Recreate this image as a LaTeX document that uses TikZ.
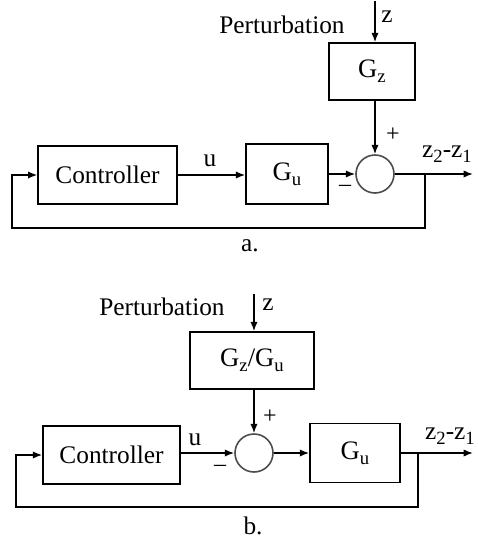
\documentclass[tikz,border=0pt]{standalone}
\usepackage{fontspec}
\setmainfont{Liberation Serif}
\usetikzlibrary{arrows.meta}
\newcommand\lowsub[1]{\raisebox{-0.4ex}{\fontsize{14}{14}\selectfont #1}}
\begin{document}
\begin{tikzpicture}[x=0.75pt,y=-0.75pt,
  line width=1.2pt,
  blk/.style={draw, line width=1.2pt, inner sep=0pt, font=\fontsize{19}{21}\selectfont},
  sumnode/.style={draw=black!70, line width=1.2pt, circle, inner sep=0pt, minimum size=28.5pt},
  lbl/.style={inner sep=0pt, font=\fontsize{19}{21}\selectfont},
  sgn/.style={inner sep=0pt, font=\fontsize{18}{20}\selectfont},
  arr/.style={-{Latex[length=7pt,width=5.5pt]}}]
\useasboundingbox (0,0) rectangle (478,540);
% ---------------- a ----------------
\node[blk, minimum width=104pt, minimum height=43.5pt] (ctrlA) at (107.5,175) {Controller};
\node[blk, minimum width=61.5pt, minimum height=45pt, font=\fontsize{20}{22}\selectfont] (guA) at (287,174) {G\lowsub{u}};
\node[blk, minimum width=64.5pt, minimum height=42.75pt, font=\fontsize{20}{22}\selectfont] (gzA) at (372,71.5) {G\lowsub{z}};
\node[sumnode] (sumA) at (375,174) {};
\coordinate (zinA) at (375,1);
\coordinate (outA) at (473,174);
\coordinate (brA) at (425,174);
\coordinate (fbA) at (12,228);
\node[lbl] (pertA) at (282,25) {Perturbation};
\node[lbl] (zA) at (387,17) {z};
\node[lbl] (uA) at (210,161) {u};
\node[sgn] (plusA) at (393,135) {+};
\node[sgn] (minusA) at (345,188) {\textendash};
\node[lbl] (outlblA) at (447,154) {z\lowsub{2}-z\lowsub{1}};
\node[lbl] (capA) at (250,246) {a.};
\draw[arr] (zinA) -- (gzA.north -| zinA);
\draw[arr] (gzA.south -| sumA) -- (sumA.north);
\draw[arr] (ctrlA.east) -- (ctrlA.east -| guA.west);
\draw[arr] (guA.east |- sumA) -- (sumA.west);
\draw[arr] (sumA.east) -- (outA);
\draw[arr] (brA) -- (brA |- fbA) -- (fbA) |- (ctrlA.west);
% ---------------- b ----------------
\node[blk, minimum width=102.75pt, minimum height=43.5pt] (ctrlB) at (111.5,455) {Controller};
\node[sumnode] (sumB) at (254,453) {};
\node[blk, minimum width=67.5pt, minimum height=44.25pt, font=\fontsize{20}{22}\selectfont] (guB) at (355,453) {G\lowsub{u}};
\node[blk, minimum width=93pt, minimum height=42.75pt, font=\fontsize{20}{22}\selectfont] (gzB) at (252,360.5) {G\lowsub{z}/G\lowsub{u}};
\coordinate (zinB) at (254,294);
\coordinate (outB) at (473,453);
\coordinate (brB) at (418,453);
\coordinate (fbB) at (16,507);
\node[lbl] (pertB) at (162,307) {Perturbation};
\node[lbl] (zB) at (268,305) {z};
\node[lbl] (uB) at (195,440) {u};
\node[sgn] (plusB) at (270,417) {+};
\node[sgn] (minusB) at (220,468) {\textendash};
\node[lbl] (outlblB) at (450,436) {z\lowsub{2}-z\lowsub{1}};
\node[lbl] (capB) at (253,526) {b.};
\draw[arr] (zinB) -- (gzB.north -| zinB);
\draw[arr] (gzB.south -| sumB) -- (sumB.north);
\draw[arr] (ctrlB.east |- sumB) -- (sumB.west);
\draw[arr] (sumB.east) -- (guB.west);
\draw[arr] (guB.east) -- (outB);
\draw[arr] (brB) -- (brB |- fbB) -- (fbB) |- (ctrlB.west);
\end{tikzpicture}
\end{document}
